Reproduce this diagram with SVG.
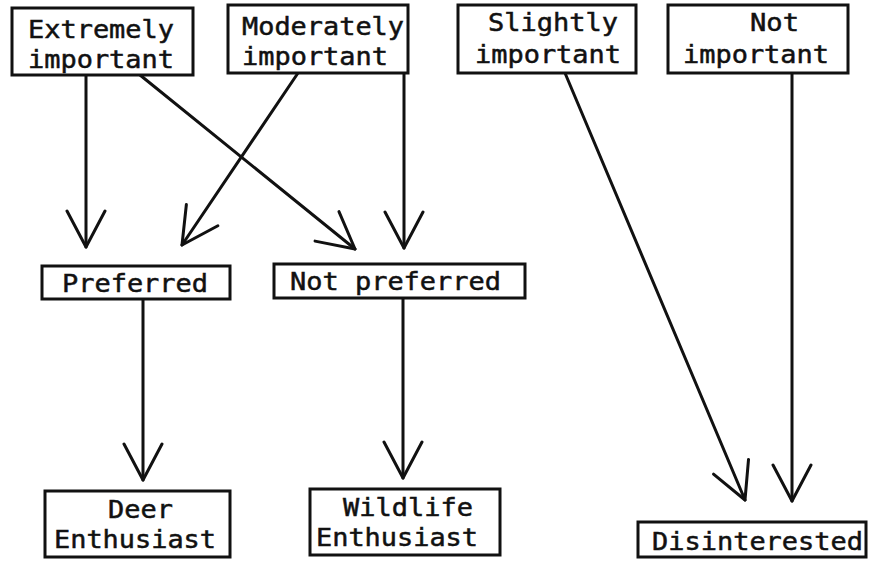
<svg xmlns="http://www.w3.org/2000/svg" width="881" height="561" viewBox="0 0 881 561">
<style>
.box{fill:#fff;stroke:#111;stroke-width:3}
.t{font-family:"DejaVu Sans Mono","Liberation Mono",monospace;font-size:25px;fill:#111;stroke:#111;stroke-width:0.5}
.c{fill:none;stroke:#111;stroke-width:3;stroke-linecap:round;stroke-linejoin:round}
</style>
<defs>
<marker id="v" viewBox="-2 -22 40 44" refX="36" refY="0" markerWidth="40" markerHeight="44" markerUnits="userSpaceOnUse" orient="auto">
<path d="M0,-19 L36,0 L0,19" fill="none" stroke="#111" stroke-width="3" stroke-linecap="round" stroke-linejoin="round"/>
</marker>
</defs>
<rect width="881" height="561" fill="#fff"/>
<g id="connectors">
<line class="c" x1="86" y1="75" x2="86" y2="247" marker-end="url(#v)"/>
<line class="c" x1="140" y1="75" x2="355" y2="249" marker-end="url(#v)"/>
<line class="c" x1="298" y1="73" x2="182" y2="245" marker-end="url(#v)"/>
<line class="c" x1="404" y1="73" x2="404" y2="248" marker-end="url(#v)"/>
<line class="c" x1="143" y1="299" x2="143" y2="480" marker-end="url(#v)"/>
<line class="c" x1="403" y1="298" x2="403" y2="478" marker-end="url(#v)"/>
<line class="c" x1="565" y1="73" x2="745" y2="500" marker-end="url(#v)"/>
<line class="c" x1="792" y1="73" x2="792" y2="501" marker-end="url(#v)"/>
</g>
<g id="extremely">
<rect class="box" x="12" y="8" width="181" height="67"/>
<text class="t" x="28" y="38" textLength="146" lengthAdjust="spacingAndGlyphs">Extremely</text>
<text class="t" x="28" y="68" textLength="146" lengthAdjust="spacingAndGlyphs">important</text>
</g>
<g id="moderately">
<rect class="box" x="228" y="5" width="180" height="68"/>
<text class="t" x="242" y="35" textLength="162" lengthAdjust="spacingAndGlyphs">Moderately</text>
<text class="t" x="242" y="65" textLength="146" lengthAdjust="spacingAndGlyphs">important</text>
</g>
<g id="slightly">
<rect class="box" x="458" y="5" width="178" height="68"/>
<text class="t" x="488" y="31" textLength="130" lengthAdjust="spacingAndGlyphs">Slightly</text>
<text class="t" x="475" y="63" textLength="146" lengthAdjust="spacingAndGlyphs">important</text>
</g>
<g id="notimportant">
<rect class="box" x="668" y="5" width="180" height="68"/>
<text class="t" x="750" y="31" textLength="49" lengthAdjust="spacingAndGlyphs">Not</text>
<text class="t" x="683" y="63" textLength="146" lengthAdjust="spacingAndGlyphs">important</text>
</g>
<g id="preferred">
<rect class="box" x="42" y="266" width="188" height="33"/>
<text class="t" x="62" y="292" textLength="146" lengthAdjust="spacingAndGlyphs">Preferred</text>
</g>
<g id="notpreferred">
<rect class="box" x="274" y="264" width="251" height="34"/>
<text class="t" x="290" y="290" textLength="211" lengthAdjust="spacingAndGlyphs">Not preferred</text>
</g>
<g id="deer">
<rect class="box" x="45" y="491" width="185" height="66"/>
<text class="t" x="108" y="518" textLength="65" lengthAdjust="spacingAndGlyphs">Deer</text>
<text class="t" x="54" y="548" textLength="162" lengthAdjust="spacingAndGlyphs">Enthusiast</text>
</g>
<g id="wildlife">
<rect class="box" x="310" y="489" width="190" height="66"/>
<text class="t" x="343" y="516" textLength="130" lengthAdjust="spacingAndGlyphs">Wildlife</text>
<text class="t" x="316" y="546" textLength="162" lengthAdjust="spacingAndGlyphs">Enthusiast</text>
</g>
<g id="disinterested">
<rect class="box" x="638" y="522" width="228" height="35"/>
<text class="t" x="652" y="550" textLength="211" lengthAdjust="spacingAndGlyphs">Disinterested</text>
</g>
</svg>
